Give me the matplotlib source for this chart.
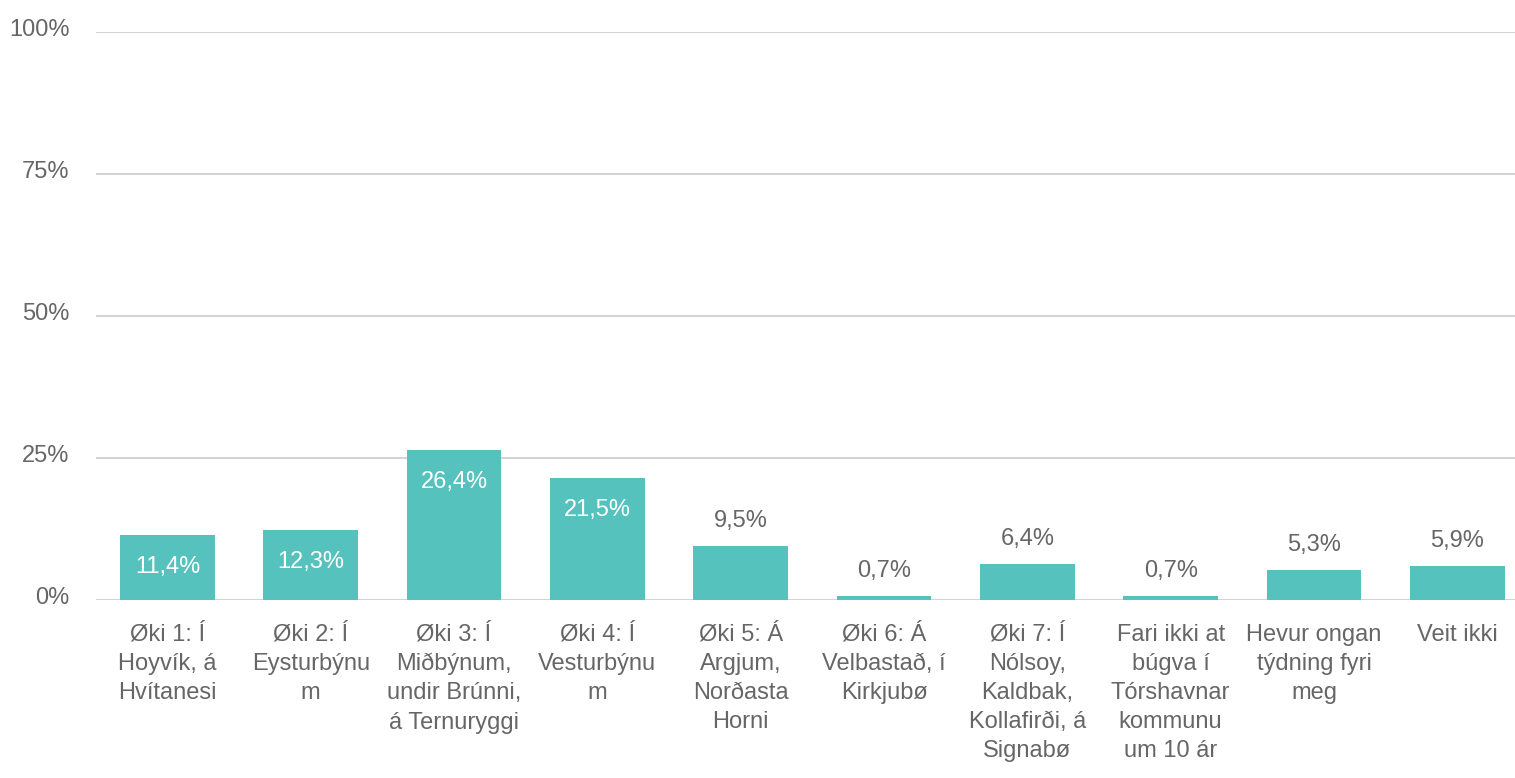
import matplotlib
matplotlib.use('Agg')
import matplotlib.pyplot as plt
from matplotlib.transforms import ScaledTranslation

plt.rcParams['font.family'] = ['Liberation Sans', 'DejaVu Sans']

# data
categories = [
    'Øki 1: Í\nHoyvík, á\nHvítanesi',
    'Øki 2: Í\nEysturbýnu\nm',
    'Øki 3: Í\nMiðbýnum,\nundir Brúnni,\ná Ternuryggi',
    'Øki 4: Í\nVesturbýnu\nm',
    'Øki 5: Á\nArgjum,\nNorðasta\nHorni',
    'Øki 6: Á\nVelbastað, í\nKirkjubø',
    'Øki 7: Í\nNólsoy,\nKaldbak,\nKollafirði, á\nSignabø',
    'Fari ikki at\nbúgva í\nTórshavnar\nkommunu\num 10 ár',
    'Hevur ongan\ntýdning fyri\nmeg',
    'Veit ikki',
]
values = [11.4, 12.3, 26.4, 21.5, 9.5, 0.7, 6.4, 0.7, 5.3, 5.9]
yticks = [0, 25, 50, 75, 100]

bar_color = '#55c2bd'
text_color = '#666666'
grid_color = '#d4d4d4'

fig = plt.figure(figsize=(15.15, 7.78), dpi=100)
ax = fig.add_axes([0.0632, 0.2288, 0.946, 0.7301])

x = list(range(len(values)))
ax.bar(x, values, width=0.66, color=bar_color, zorder=3)

for xi, v in zip(x, values):
    lab = '{:.1f}%'.format(v).replace('.', ',')
    if v >= 10:
        ax.annotate(lab, (xi, v), xytext=(0, -23), textcoords='offset points',
                    ha='center', va='center', color='white', fontsize=17)
    else:
        ax.annotate(lab, (xi, v), xytext=(0, 18), textcoords='offset points',
                    ha='center', va='center', color=text_color, fontsize=17)

ax.set_xlim(-0.5, len(values) - 0.5)
ax.set_ylim(0, 100)
ax.set_yticks(yticks)
ax.set_yticklabels(['{}%'.format(t) for t in yticks])
ax.set_xticks(x)
ax.set_xticklabels(categories, linespacing=1.42)

ax.tick_params(axis='both', length=0, labelsize=17, labelcolor=text_color)
ax.tick_params(axis='x', pad=17)
ax.tick_params(axis='y', pad=19)
ax.yaxis.grid(True, color=grid_color, linewidth=1.5, zorder=0)
for s in ax.spines.values():
    s.set_visible(False)

# y labels sit a little above their gridlines
up = ScaledTranslation(0, 4 / 100, fig.dpi_scale_trans)
for t in ax.get_yticklabels():
    t.set_transform(t.get_transform() + up)

plt.savefig('out.png', dpi=100)
